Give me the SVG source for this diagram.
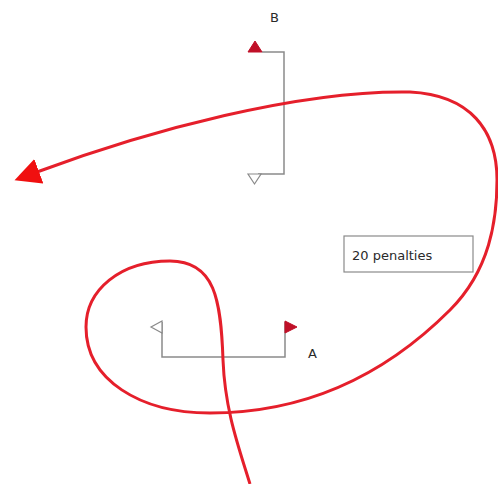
<svg xmlns="http://www.w3.org/2000/svg" width="498" height="484" viewBox="0 0 498 484">
<style>
.gate{fill:none;stroke:#8a8a8a;stroke-width:1.5}
.fr{fill:#c01028;stroke:#c01028;stroke-width:1}
.fw{fill:#fff;stroke:#8a8a8a;stroke-width:1.2}
.lbl{font-family:"DejaVu Sans",Verdana,sans-serif;font-size:13px;fill:#2a2a2a}
.track{fill:none;stroke:#e51f2b;stroke-width:3}
</style>
<defs>
<marker id="ah" markerUnits="userSpaceOnUse" markerWidth="30" markerHeight="30" refX="2" refY="13" orient="auto">
<polygon points="0,0 26,13 0,26" fill="#f01010"/>
</marker>
</defs>
<rect width="498" height="484" fill="#fff"/>
<g id="gateB">
<polyline class="gate" points="262,52 284,52 284,174 258,174"/>
<polygon class="fr" points="248,52 262,52 255,41"/>
<polygon class="fw" points="248,174 261,174 254.5,184"/>
<text class="lbl" x="270" y="22">B</text>
</g>
<g id="gateA">
<polyline class="gate" points="162,322 162,357 285,357 285,322"/>
<polygon class="fw" points="162,321 162,333 151,327"/>
<polygon class="fr" points="285,321 285,333 297,327"/>
<text class="lbl" x="308" y="358">A</text>
</g>
<g id="note">
<rect x="344" y="236" width="129" height="36" fill="#fff" stroke="#8a8a8a" stroke-width="1.2"/>
<text class="lbl" x="352" y="260">20 penalties</text>
</g>
<g id="connectors">
<path class="track" marker-end="url(#ah)" d="M 250 484 C 238 445, 225 410, 223 360 C 221 300, 215 261, 170 261 C 120 261, 86 290, 86 327 C 86 380, 140 413, 210 413 C 300 413, 380 380, 450 310 C 490 270, 497 220, 497 180 C 497 130, 470 95, 410 92 C 300 90, 150 130, 37 172"/>
</g>
</svg>
